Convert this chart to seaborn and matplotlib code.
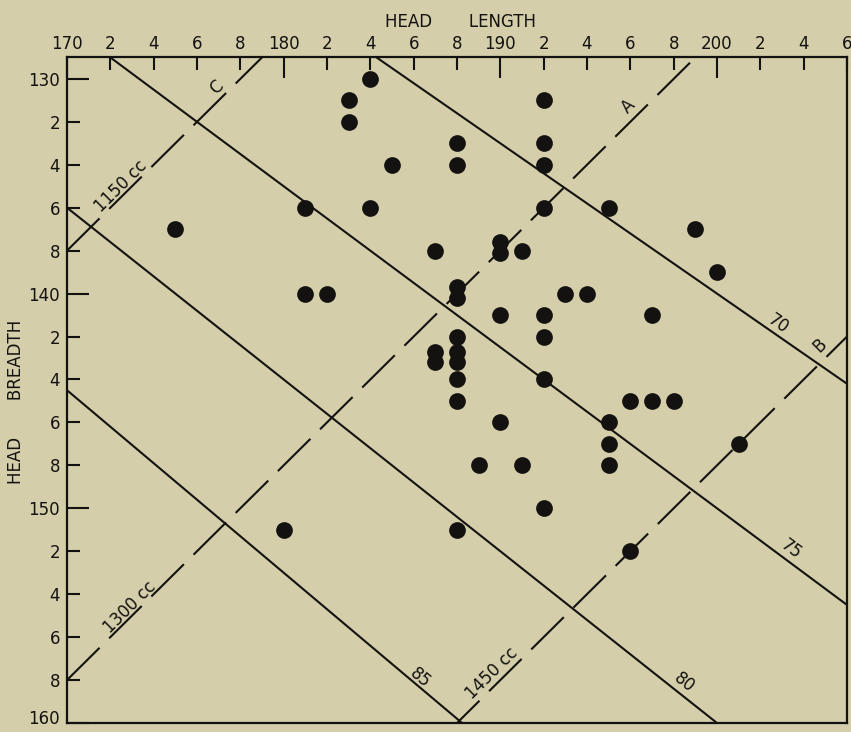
import numpy as np
import pandas as pd
import matplotlib
matplotlib.use("Agg")
import matplotlib.pyplot as plt
import matplotlib.transforms as mtransforms
import seaborn as sns

# head length / head breadth (mm) of each individual
head_length = [184, 183, 183, 185, 184, 181, 175, 181, 182,
               188, 188, 192, 192, 192, 192, 195, 199, 200,
               187, 190, 190, 191, 188, 188, 193, 194, 190,
               192, 197, 192, 188, 187, 187, 188, 188, 188,
               192, 188, 196, 197, 198, 195, 190, 195, 201,
               189, 191, 195, 192, 180, 188, 196]
head_breadth = [130, 131, 132, 134, 136, 136, 137, 140, 140,
                133, 134, 131, 133, 134, 136, 136, 137, 139,
                138, 137.6, 138.1, 138, 139.7, 140.2, 140, 140, 141,
                141, 141, 142, 142, 142.7, 143.2, 142.7, 143.2, 144,
                144, 145, 145, 145, 145, 146, 146, 147, 147,
                148, 148, 148, 150, 151, 151, 152]

# cephalic index lines  (breadth = index/100 * length)
cephalic_index = [70, 75, 80, 85]
# cranial capacity lines  (length + breadth = const)
capacity_labels = ["1150 cc", "1300 cc", "1450 cc"]
capacity_letters = ["C", "A", "B"]
capacity_sum = [308, 328, 348]

# tick values and labels
x_major = [170, 180, 190, 200]
x_major_labels = ["170", "180", "190", "200"]
x_minor = [172, 174, 176, 178, 182, 184, 186, 188, 192, 194, 196, 198, 202, 204, 206]
x_minor_labels = ["2", "4", "6", "8", "2", "4", "6", "8", "2", "4", "6", "8", "2", "4", "6"]
y_major = [130, 140, 150, 160]
y_major_labels = ["130", "140", "150", "160"]
y_minor = [132, 134, 136, 138, 142, 144, 146, 148, 152, 154, 156, 158]
y_minor_labels = ["2", "4", "6", "8", "2", "4", "6", "8", "2", "4", "6", "8"]

# label placement (layout only)
index_label_pos = [(202.8, 141.4), (203.4, 151.9), (198.5, 158.1), (186.3, 157.9)]
letter_label_pos = [(176.9, 130.4), (195.9, 131.3), (204.75, 142.4)]
cc_label_pos = [(172.5, 135.0), (172.9, 154.6), (189.6, 157.7)]

BG = "#d4ceaa"
INK = "#141210"

sns.set_theme(style="ticks", rc={
    "axes.facecolor": BG,
    "figure.facecolor": BG,
    "axes.edgecolor": INK,
    "axes.linewidth": 1.6,
    "xtick.color": INK,
    "ytick.color": INK,
    "text.color": INK,
    "axes.labelcolor": INK,
})
plt.rcParams["font.family"] = ["DejaVu Sans"]

df = pd.DataFrame({"length": head_length, "breadth": head_breadth})

fig = plt.figure(figsize=(8.51, 7.32), dpi=100)
ax = fig.add_axes([67 / 851, 1 - 723 / 732, 780 / 851, 666 / 732])
ax.set_xlim(170, 206)
ax.set_ylim(160, 128.98)

# index lines (solid)
L = np.array([170, 206])
for idx in cephalic_index:
    ax.plot(L, L * idx / 100, color=INK, lw=1.5, solid_capstyle="butt")

# capacity lines (long dashes)
for s in capacity_sum:
    ax.plot(L, s - L, color=INK, lw=1.5, dashes=(22, 6.5), dash_capstyle="butt")

sns.scatterplot(data=df, x="length", y="breadth", ax=ax, s=145,
                color=INK, linewidth=0, zorder=5)


def screen_angle(slope):
    p0 = ax.transData.transform((180, 140))
    p1 = ax.transData.transform((181, 140 + slope))
    return np.degrees(np.arctan2(p1[1] - p0[1], p1[0] - p0[0]))


for idx, (x, y) in zip(cephalic_index, index_label_pos):
    ax.text(x, y, str(idx), rotation=screen_angle(idx / 100), fontsize=12,
            ha="center", va="center", rotation_mode="anchor")

cap_angle = screen_angle(-1)
for lab, (x, y) in zip(capacity_letters, letter_label_pos):
    ax.text(x, y, lab, rotation=cap_angle, fontsize=12,
            ha="center", va="center", rotation_mode="anchor")
for lab, (x, y) in zip(capacity_labels, cc_label_pos):
    ax.text(x, y, lab, rotation=cap_angle, fontsize=12,
            ha="center", va="center", rotation_mode="anchor")

# axes / ticks
ax.set_xticks(x_major, x_major_labels)
ax.set_xticks(x_minor, x_minor_labels, minor=True)
ax.set_yticks(y_major, y_major_labels)
ax.set_yticks(y_minor, y_minor_labels, minor=True)
ax.tick_params(axis="x", which="both", direction="in", top=True, bottom=False,
               labeltop=True, labelbottom=False, labelsize=12, pad=3, width=1.5)
ax.tick_params(axis="y", which="both", direction="in", left=True, right=False,
               labelsize=12, pad=5, width=1.5)
ax.tick_params(axis="x", which="major", length=15)
ax.tick_params(axis="x", which="minor", length=9)
ax.tick_params(axis="y", which="major", length=16)
ax.tick_params(axis="y", which="minor", length=9.5)

# the "160" label sits on the bottom edge; lift it a little so it is not clipped
lift = mtransforms.ScaledTranslation(0, 4 / 72, fig.dpi_scale_trans)
last = ax.yaxis.get_major_ticks()[-1].label1
last.set_transform(last.get_transform() + lift)

ax.xaxis.set_label_position("top")
ax.set_xlabel("HEAD       LENGTH", fontsize=12)
ax.xaxis.set_label_coords(0.504, 1.045)
ax.set_ylabel("HEAD       BREADTH", fontsize=12)
ax.yaxis.set_label_coords(-0.054, 0.482)

for side in ["top", "bottom", "left", "right"]:
    ax.spines[side].set_visible(True)

fig.savefig("out.png", dpi=100, facecolor=BG)
